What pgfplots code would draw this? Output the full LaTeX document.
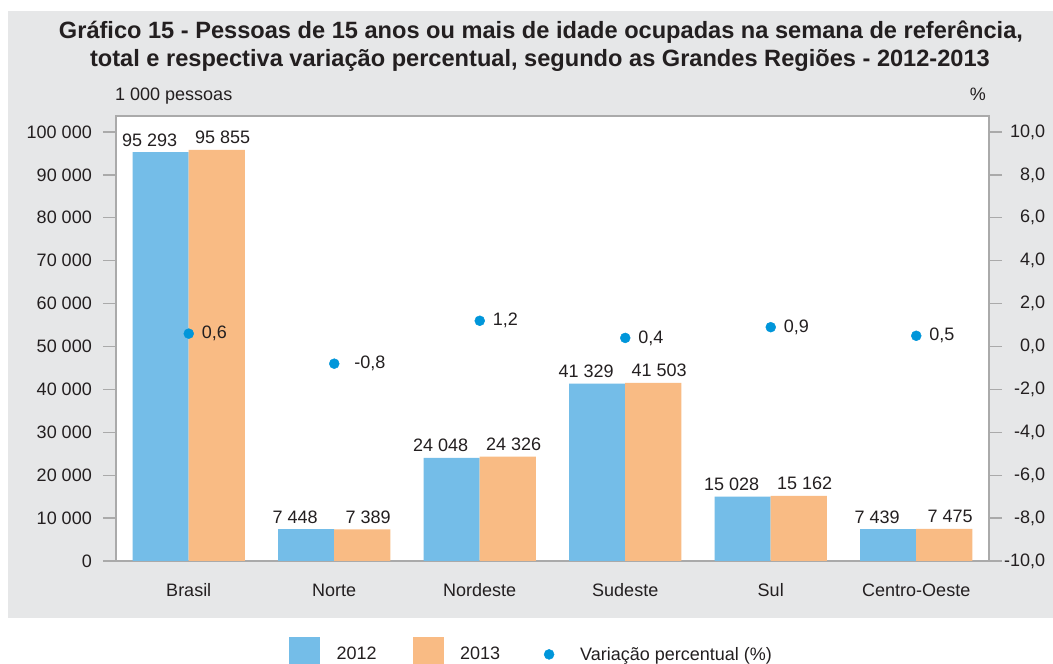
\documentclass[border=0pt]{standalone}
\usepackage{pgfplots}
\pgfplotsset{compat=1.18}
\usepackage{fontspec}
\setmainfont{Liberation Sans}
\definecolor{bggray}{RGB}{230,231,232}
\definecolor{barblue}{RGB}{116,189,232}
\definecolor{barorange}{RGB}{249,187,132}
\definecolor{dotblue}{RGB}{0,150,218}
\definecolor{textcol}{RGB}{35,31,32}
\definecolor{framegray}{RGB}{170,170,170}
\newcommand{\fs}{\fontsize{18}{21}\selectfont}
\begin{document}
\begin{tikzpicture}
\useasboundingbox (0pt,0pt) rectangle (1053pt,664pt);
\fill[bggray] (8pt,46pt) rectangle (1053pt,653pt);
\node[font=\fontsize{23.6}{28}\selectfont\bfseries, text=textcol, inner sep=0pt] at (541pt,632pt) {Gráfico 15 - Pessoas de 15 anos ou mais de idade ocupadas na semana de referência,};
\node[font=\fontsize{23.6}{28}\selectfont\bfseries, text=textcol, inner sep=0pt] at (540pt,604pt) {total e respectiva variação percentual, segundo as Grandes Regiões - 2012-2013};
\node[anchor=base west, font=\fs, text=textcol, inner sep=0pt] at (115pt,563pt) {1 000 pessoas};
\node[anchor=base east, font=\fs, text=textcol, inner sep=0pt] at (986pt,563pt) {\%};

\begin{axis}[
  at={(116pt,103pt)}, anchor=south west, scale only axis,
  width=873pt, height=445pt,
  xmin=-0.5, xmax=5.5, ymin=0, ymax=103730,
  scaled y ticks=false,
  axis background/.style={fill=white},
  axis line style={framegray, line width=1.3pt},
  ybar=0pt, bar width=56pt,
  xtick={0,...,5},
  xticklabels={Brasil,Norte,Nordeste,Sudeste,Sul,Centro-Oeste},
  x tick style={draw=none},
  xticklabel style={anchor=base, inner sep=0pt, yshift=-22pt},
  ytick={0,10000,...,100000},
  yticklabels={0,10 000,20 000,30 000,40 000,50 000,60 000,70 000,80 000,90 000,100 000},
  ytick pos=left,
  tick align=outside, major tick length=13pt,
  y tick style={framegray, line width=1.3pt},
  yticklabel style={inner sep=0pt, xshift=-11pt},
  font=\fs,
  tick label style={text=textcol, font=\fs},
  nodes near coords, point meta=explicit symbolic,
  every node near coord/.append style={anchor=base, yshift=6pt, inner sep=0pt, text=textcol, font=\fs},
]
\addplot[fill=barblue, draw=none, every node near coord/.append style={xshift=-11pt}] coordinates {(0,95293)[95 293] (1,7448)[7 448] (2,24048)[24 048] (3,41329)[41 329] (4,15028)[15 028] (5,7439)[7 439]};
\addplot[fill=barorange, draw=none, every node near coord/.append style={xshift=6pt}] coordinates {(0,95855)[95 855] (1,7389)[7 389] (2,24326)[24 326] (3,41503)[41 503] (4,15162)[15 162] (5,7475)[7 475]};
\end{axis}

\begin{axis}[
  at={(116pt,103pt)}, anchor=south west, scale only axis,
  width=873pt, height=445pt,
  xmin=-0.5, xmax=5.5, ymin=-10, ymax=10.746,
  hide x axis,
  axis y line*=right,
  axis line style={framegray, line width=1.3pt},
  ytick={-10,-8,...,10},
  yticklabels={{-10,0},{-8,0},{-6,0},{-4,0},{-2,0},{0,0},{2,0},{4,0},{6,0},{8,0},{10,0}},
  tick align=outside, major tick length=13pt,
  y tick style={framegray, line width=1.3pt},
  yticklabel style={inner sep=0pt, text width=43pt, align=right, anchor=west, xshift=0pt},
  tick label style={text=textcol, font=\fs},
  font=\fs,
  legend columns=3,
  legend style={at={(0.1982,-0.1708)}, anchor=north west, draw=none, fill=none,
    inner sep=0pt, font=\fs, text=textcol, nodes={inner sep=0pt},
    /tikz/every odd column/.append style={column sep=17pt},
    /tikz/every even column/.append style={column sep=36pt}},
]
\addlegendimage{legend image code/.code={\fill[barblue] (0pt,-13pt) rectangle (30pt,17pt);}}
\addlegendentry{2012}
\addlegendimage{legend image code/.code={\fill[barorange] (0pt,-13pt) rectangle (30pt,17pt);}}
\addlegendentry{2013}
\addplot[only marks, mark=*, mark size=5pt, color=dotblue,
  nodes near coords, point meta=explicit symbolic,
  every node near coord/.append style={anchor=west, xshift=13pt, inner sep=0pt, text=textcol, font=\fs},
  legend image code/.code={\path[draw=none,fill=none] (0pt,-13pt) rectangle (27pt,17pt); \fill[dotblue] (13pt,0pt) circle (5pt);}]
  coordinates {(0,0.6)[0,6] (1,-0.8)[\hspace{7pt}-0,8] (2,1.2)[1,2] (3,0.4)[0,4] (4,0.9)[0,9] (5,0.5)[0,5]};
\addlegendentry{Variação percentual (\%)}
\end{axis}
\end{tikzpicture}
\end{document}
